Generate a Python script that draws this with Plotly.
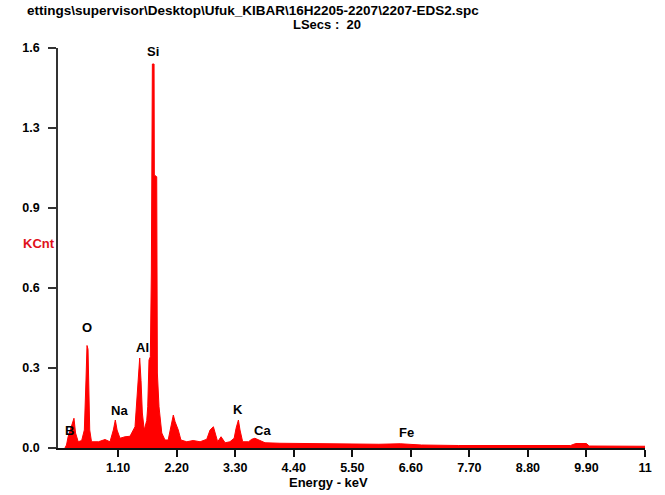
import plotly.graph_objects as go

# Spectrum outline (energy in keV, intensity in KCnt)
energy_kev = [0.10, 0.13, 0.16, 0.196, 0.23, 0.27, 0.30, 0.35, 0.415, 0.465, 0.496, 0.515, 0.534,
              0.547, 0.566, 0.60, 0.73, 0.853, 0.947, 1.01, 1.047, 1.08, 1.135, 1.23, 1.323, 1.417,
              1.46, 1.505, 1.53, 1.555, 1.59, 1.637, 1.656, 1.68, 1.705, 1.724, 1.743, 1.775, 1.78,
              1.825, 1.837, 1.868, 1.92, 1.98, 2.04, 2.094, 2.137, 2.17, 2.23, 2.28, 2.39, 2.51,
              2.64, 2.765, 2.827, 2.89, 2.92, 2.97, 3.034, 3.11, 3.20, 3.28, 3.316, 3.36, 3.39,
              3.44, 3.55, 3.61, 3.67, 3.77, 3.86, 4.14, 4.5, 5.0, 5.5, 6.0, 6.4, 6.8, 7.5, 8.3,
              9.0, 9.6, 9.7, 9.9, 9.95, 10.5, 11.0]
counts_kcnt = [0.0, 0.012, 0.045, 0.072, 0.088, 0.119, 0.06, 0.025, 0.03, 0.072, 0.272, 0.41, 0.395,
               0.21, 0.072, 0.025, 0.025, 0.034, 0.025, 0.072, 0.112, 0.072, 0.039, 0.045, 0.047, 0.085,
               0.21, 0.36, 0.27, 0.14, 0.072, 0.11, 0.165, 0.352, 0.365, 0.70, 1.536, 1.536, 1.092,
               1.085, 0.30, 0.165, 0.06, 0.032, 0.032, 0.085, 0.132, 0.105, 0.072, 0.032, 0.025, 0.03,
               0.025, 0.035, 0.072, 0.085, 0.06, 0.025, 0.045, 0.021, 0.025, 0.039, 0.079, 0.112, 0.072,
               0.025, 0.025, 0.035, 0.039, 0.03, 0.021, 0.019, 0.018, 0.016, 0.016, 0.015, 0.017, 0.012, 0.01, 0.01,
               0.009, 0.01, 0.018, 0.018, 0.008, 0.007, 0.007]

# Element labels
element_names = ["B", "O", "Na", "Al", "Si", "K", "Ca", "Fe"]
label_kev = [0.18, 0.52, 1.12, 1.55, 1.76, 3.35, 3.81, 6.51]
label_kcnt = [0.072, 0.484, 0.152, 0.404, 1.588, 0.156, 0.072, 0.064]

# Axis ticks
x_tickvals = [1.1, 2.2, 3.3, 4.4, 5.5, 6.6, 7.7, 8.8, 9.9, 11.0]
x_ticktext = ["1.10", "2.20", "3.30", "4.40", "5.50", "6.60", "7.70", "8.80", "9.90", "11"]
y_tickvals = [0.0, 0.32, 0.64, 0.96, 1.28, 1.6]
y_ticktext = ["0.0", "0.3", "0.6", "0.9", "1.3", "1.6"]

title_line1 = "ettings\\supervisor\\Desktop\\Ufuk_KIBAR\\16H2205-2207\\2207-EDS2.spc"
title_line2 = "LSecs :  20"

FONT = "Liberation Sans Narrow, Liberation Sans, Arial, sans-serif"
RED = "#FF0000"

fig = go.Figure()
fig.add_trace(go.Scatter(
    x=energy_kev, y=counts_kcnt, mode="lines", fill="tozeroy",
    line=dict(color=RED, width=1), fillcolor=RED, hoverinfo="skip", showlegend=False))

for name, ex, ey in zip(element_names, label_kev, label_kcnt):
    fig.add_annotation(x=ex, y=ey, xref="x", yref="y", text="<b>%s</b>" % name,
                       showarrow=False, font=dict(family=FONT, size=13, color="black"))

fig.add_annotation(x=25, y=485, text="<b>%s</b>" % title_line1,
                   showarrow=False, xanchor="left", yanchor="middle",
                   font=dict(family=FONT, size=13.5, color="black"))
fig.add_annotation(x=327, y=470, text="<b>%s</b>" % title_line2, showarrow=False,
                   xanchor="center", yanchor="middle", font=dict(family=FONT, size=13, color="black"))
fig.add_annotation(x=39, y=252, text="<b>KCnt</b>", showarrow=False,
                   xanchor="center", yanchor="middle", font=dict(family=FONT, size=13, color="#E0101A"))
fig.add_annotation(x=328, y=12, text="<b>Energy - keV</b>", showarrow=False,
                   xanchor="center", yanchor="middle", font=dict(family=FONT, size=13, color="black"))

# convert pixel-positioned annotations (measured from the bottom-left corner) to paper coordinates
W, H = 665, 495
ML, MR, MT, MB = 58, 20, 48, 47
pw, ph = W - ML - MR, H - MT - MB
for ann in fig.layout.annotations[len(element_names):]:
    px, py = ann.x, ann.y
    ann.update(xref="paper", yref="paper",
               x=(px - ML) / pw, y=(py - MB) / ph)

fig.update_layout(
    width=W, height=H, margin=dict(l=ML, r=MR, t=MT, b=MB),
    paper_bgcolor="white", plot_bgcolor="white",
    font=dict(family=FONT, size=12, color="black"),
    xaxis=dict(range=[-0.03, 11.0], tickvals=x_tickvals, ticktext=["<b>%s</b>" % t for t in x_ticktext],
               tickfont=dict(size=12.5),
               showgrid=False, zeroline=False, showline=True, linecolor="#111", linewidth=2,
               ticks="outside", ticklen=7, tickwidth=1.5, tickcolor="#111", fixedrange=True),
    yaxis=dict(range=[0, 1.6], tickvals=y_tickvals, ticktext=["<b>%s</b>" % t for t in y_ticktext],
               tickfont=dict(size=12.5),
               showgrid=False, zeroline=False, showline=True, linecolor="#333", linewidth=1.5,
               ticks="outside", ticklen=8, tickwidth=1.5, tickcolor="#333", ticklabelstandoff=6,
               fixedrange=True),
)

fig.write_html("out.html")
